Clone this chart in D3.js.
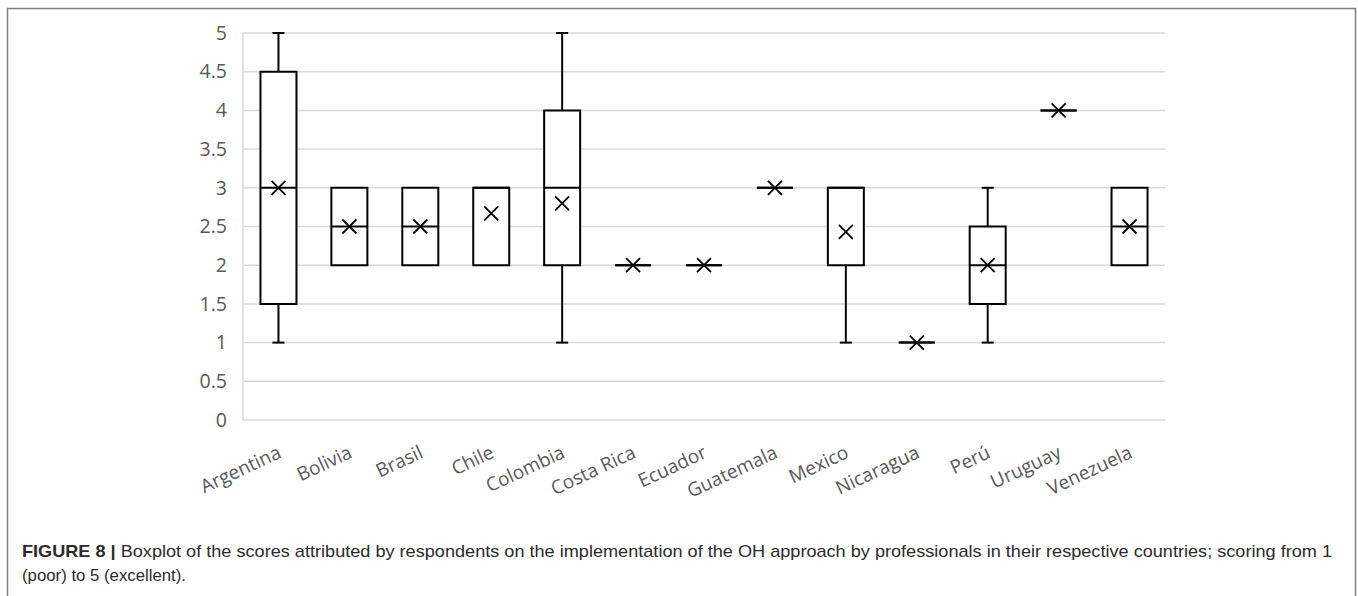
<!DOCTYPE html>
<html>
<head>
<meta charset="utf-8">
<script src="https://cdn.jsdelivr.net/npm/d3@7"></script>
<style>
  body { margin: 0; background: #fff; }
  svg { display: block; }
</style>
</head>
<body>
<svg id="chart" width="1358" height="596"></svg>
<script>
// data
const countries = ["Argentina", "Bolivia", "Brasil", "Chile", "Colombia", "Costa Rica", "Ecuador",
  "Guatemala", "Mexico", "Nicaragua", "Perú", "Uruguay", "Venezuela"];
const mins    = [1,   2,   2,   2,    1,   2, 2, 3, 1,    1, 1,   4, 2];
const q1s     = [1.5, 2,   2,   2,    2,   2, 2, 3, 2,    1, 1.5, 4, 2];
const medians = [3,   2.5, 2.5, 3,    3,   2, 2, 3, 3,    1, 2,   4, 2.5];
const q3s     = [4.5, 3,   3,   3,    4,   2, 2, 3, 3,    1, 2.5, 4, 3];
const maxs    = [5,   3,   3,   3,    5,   2, 2, 3, 3,    1, 3,   4, 3];
const means   = [3,   2.5, 2.5, 2.67, 2.8, 2, 2, 3, 2.43, 1, 2,   4, 2.5];
const yTicks  = [0, 0.5, 1, 1.5, 2, 2.5, 3, 3.5, 4, 4.5, 5];

const captionBold = "FIGURE 8 | ";
const captionLine1 = "Boxplot of the scores attributed by respondents on the implementation of the OH approach by professionals in their respective countries; scoring from 1";
const captionLine2 = "(poor) to 5 (excellent).";

let data = countries.map((c, i) => ({
  name: c, min: mins[i], q1: q1s[i], med: medians[i], q3: q3s[i], max: maxs[i], mean: means[i]
}));

let svg = d3.select("#chart");

// outer frame
svg.append("rect")
  .attr("x", 7.5).attr("y", 8.5)
  .attr("width", 1348).attr("height", 600)
  .attr("fill", "none")
  .attr("stroke", "#7f7f7f")
  .attr("stroke-width", 1.5);

let xScale = d3.scaleBand()
  .domain(countries)
  .range([243, 1165]);

let yScale = d3.scaleLinear()
  .domain([0, 5])
  .range([420, 33]);

// gridlines
svg.append("g")
  .selectAll("line")
  .data(yTicks)
  .join("line")
  .attr("x1", 243).attr("x2", 1165)
  .attr("y1", d => yScale(d)).attr("y2", d => yScale(d))
  .attr("stroke", "#d9d9d9")
  .attr("stroke-width", 1.5);

svg.append("line")
  .attr("x1", 243).attr("x2", 243)
  .attr("y1", yScale(5)).attr("y2", yScale(0))
  .attr("stroke", "#d9d9d9")
  .attr("stroke-width", 1.5);

// y axis labels
let yAxis = d3.axisLeft(yScale)
  .tickValues(yTicks)
  .tickSize(0)
  .tickPadding(0)
  .tickFormat(d => d);

let yAxisG = svg.append("g")
  .attr("transform", "translate(227,0)")
  .call(yAxis);
yAxisG.select(".domain").remove();
yAxisG.selectAll("text")
  .attr("font-family", "Open Sans")
  .attr("font-size", 19.5)
  .attr("fill", "#595959");

// x axis labels
let xAxis = d3.axisBottom(xScale).tickSize(0).tickPadding(0);
let xAxisG = svg.append("g")
  .attr("transform", "translate(0,420)")
  .call(xAxis);
xAxisG.select(".domain").remove();
xAxisG.selectAll("text")
  .attr("font-family", "Open Sans")
  .attr("font-size", 19)
  .attr("fill", "#595959")
  .attr("text-anchor", "end")
  .attr("dy", 0)
  .attr("y", 0)
  .attr("transform", "translate(4,37) rotate(-25)");

// boxes
let bw = 36;
let boxes = svg.append("g")
  .selectAll("g")
  .data(data)
  .join("g")
  .attr("transform", d => `translate(${xScale(d.name) + xScale.bandwidth() / 2},0)`);

let stroke = "#000";

// whiskers
boxes.filter(d => d.max > d.q3).append("line")
  .attr("x1", 0).attr("x2", 0)
  .attr("y1", d => yScale(d.q3)).attr("y2", d => yScale(d.max))
  .attr("stroke", stroke).attr("stroke-width", 2);
boxes.filter(d => d.max > d.q3).append("line")
  .attr("x1", -6).attr("x2", 6)
  .attr("y1", d => yScale(d.max)).attr("y2", d => yScale(d.max))
  .attr("stroke", stroke).attr("stroke-width", 2);
boxes.filter(d => d.min < d.q1).append("line")
  .attr("x1", 0).attr("x2", 0)
  .attr("y1", d => yScale(d.q1)).attr("y2", d => yScale(d.min))
  .attr("stroke", stroke).attr("stroke-width", 2);
boxes.filter(d => d.min < d.q1).append("line")
  .attr("x1", -6).attr("x2", 6)
  .attr("y1", d => yScale(d.min)).attr("y2", d => yScale(d.min))
  .attr("stroke", stroke).attr("stroke-width", 2);

// box outline (path so zero-height boxes still show as a line)
boxes.append("path")
  .attr("d", d => {
    let t = yScale(d.q3), b = yScale(d.q1);
    return `M${-bw / 2},${t}H${bw / 2}V${b}H${-bw / 2}Z`;
  })
  .attr("fill", "#fff")
  .attr("stroke", stroke)
  .attr("stroke-width", 2);

// median
boxes.append("line")
  .attr("x1", -bw / 2).attr("x2", bw / 2)
  .attr("y1", d => yScale(d.med)).attr("y2", d => yScale(d.med))
  .attr("stroke", stroke).attr("stroke-width", 2);

// mean marker
let m = 7;
boxes.append("path")
  .attr("d", d => {
    let y = yScale(d.mean);
    return `M${-m},${y - m}L${m},${y + m}M${-m},${y + m}L${m},${y - m}`;
  })
  .attr("stroke", stroke)
  .attr("stroke-width", 1.8)
  .attr("fill", "none");

// caption
let cap1 = svg.append("text")
  .attr("x", 22).attr("y", 557)
  .attr("font-family", "Liberation Sans, Arial")
  .attr("font-size", 17)
  .attr("fill", "#2b2b2b");
cap1.append("tspan").attr("font-weight", "bold").text(captionBold);
cap1.append("tspan").text(captionLine1);
cap1.attr("textLength", 1310).attr("lengthAdjust", "spacingAndGlyphs");

svg.append("text")
  .attr("x", 22).attr("y", 581)
  .attr("font-family", "Liberation Sans, Arial")
  .attr("font-size", 17)
  .attr("fill", "#2b2b2b")
  .attr("textLength", 164)
  .attr("lengthAdjust", "spacingAndGlyphs")
  .text(captionLine2);
</script>
</body>
</html>
